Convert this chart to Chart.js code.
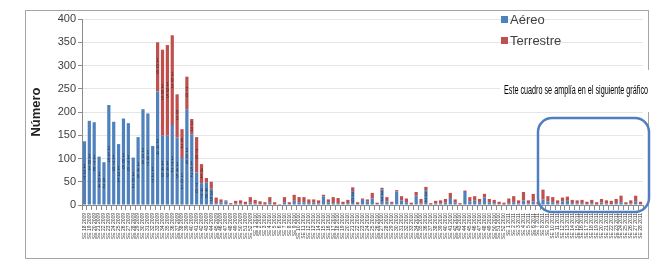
<!DOCTYPE html>
<html>
<head>
<meta charset="utf-8">
<script src="https://cdn.jsdelivr.net/npm/chart.js@4.4.1/dist/chart.umd.min.js"></script>
<style>
  html, body { margin: 0; padding: 0; background: #fff; }
  #wrap { position: relative; width: 661px; height: 275px; }
</style>
</head>
<body>
<div id="wrap"><canvas id="casesChart" width="661" height="275"></canvas></div>
<script>
// Semanas epidemiológicas (etiquetas del eje X)
const weeks = [
  'SE 18 2009','SE 19 2009','SE 20 2009','SE 21 2009','SE 22 2009','SE 23 2009','SE 24 2009','SE 25 2009',
  'SE 26 2009','SE 27 2009','SE 28 2009','SE 29 2009','SE 30 2009','SE 31 2009','SE 32 2009','SE 33 2009',
  'SE 34 2009','SE 35 2009','SE 36 2009','SE 37 2009','SE 38 2009','SE 39 2009','SE 40 2009','SE 41 2009',
  'SE 42 2009','SE 43 2009','SE 44 2009','SE 45 2009','SE 46 2009','SE 47 2009','SE 48 2009',
  'SE 49 2009','SE 50 2009','SE 51 2009','SE 52 2009','SE 1 2010','SE 2 2010','SE 3 2010','SE 4 2010',
  'SE 5 2010','SE 6 2010','SE 7 2010','SE 8 2010','SE 9 2010','SE 10 2010','SE 11 2010','SE 12 2010',
  'SE 13 2010','SE 14 2010','SE 15 2010','SE 16 2010','SE 17 2010','SE 18 2010','SE 19 2010','SE 20 2010',
  'SE 21 2010','SE 22 2010','SE 23 2010','SE 24 2010','SE 25 2010','SE 26 2010','SE 27 2010',
  'SE 28 2010','SE 29 2010','SE 30 2010','SE 31 2010','SE 32 2010','SE 33 2010','SE 34 2010','SE 35 2010',
  'SE 36 2010','SE 37 2010','SE 38 2010','SE 39 2010','SE 40 2010','SE 41 2010','SE 42 2010','SE 43 2010',
  'SE 44 2010','SE 45 2010','SE 46 2010','SE 47 2010','SE 48 2010','SE 49 2010','SE 50 2010','SE 51 2010',
  'SE 52 2010','SE 1 2011','SE 2 2011','SE 3 2011','SE 4 2011','SE 5 2011','SE 6 2011',
  'SE 7 2011','SE 8 2011','SE 9 2011','SE 10 2011','SE 11 2011','SE 12 2011','SE 13 2011','SE 14 2011',
  'SE 15 2011','SE 16 2011','SE 17 2011','SE 18 2011','SE 19 2011','SE 20 2011','SE 21 2011','SE 22 2011',
  'SE 23 2011','SE 24 2011','SE 25 2011','SE 26 2011','SE 27 2011','SE 28 2011'
];

// Aéreo (azul)
const aereo = [
  137,181,178,104,92,215,179,131,186,176,102,146,206,197,127,
  244,149,149,172,145,101,206,152,70,47,48,35,4,6,8,0,3,
  3,2,5,3,2,1,5,1,0,6,2,9,6,6,4,5,3,18,6,4,4,2,4,30,2,11,8,14,2,33,8,4,29,10,6,1,20,3,32,1,3,
  3,5,15,5,1,28,8,9,6,16,6,4,2,1,4,6,3,10,3,8,2,12,8,6,3,8,9,4,3,4,2,4,1,5,3,2,4,6,2,3,7,2
];

// Terrestre (rojo)
const terrestre = [
  0,0,0,0,0,0,0,0,0,0,0,0,0,0,0,
  106,185,195,193,93,62,70,33,76,41,10,15,12,6,2,4,6,
  7,5,12,8,6,5,12,5,2,11,4,13,11,11,8,7,7,4,6,13,11,5,7,8,4,3,4,12,3,4,9,3,3,9,8,4,8,10,7,3,6,
  7,8,11,7,3,3,9,10,7,8,7,7,5,4,10,13,7,18,7,16,5,21,11,11,7,8,9,7,7,7,5,7,5,8,7,7,9,14,4,7,13,5
];

const yTicks = [0, 50, 100, 150, 200, 250, 300, 350, 400];

const blue = '#4f81bd';
const red = '#c0504d';
const textGrey = '#404040';

// Dibujo extra: marco, etiquetas de valor, leyenda y recuadro de la nota
const extras = {
  id: 'extras',
  beforeDraw(chart) {
    const c = chart.ctx;
    c.save();
    c.fillStyle = '#fff';
    c.fillRect(0, 0, chart.width, chart.height);
    c.strokeStyle = '#a6a6a6';
    c.lineWidth = 1;
    c.strokeRect(25.5, 10.5, 623, 248);
    c.restore();
  },
  afterDatasetsDraw(chart) {
    // valores dentro de las barras, un dígito por línea (como en Excel)
    const c = chart.ctx;
    c.save();
    c.font = '5px "Liberation Sans"';
    c.fillStyle = 'rgba(40,40,40,0.8)';
    c.textAlign = 'center';
    c.textBaseline = 'middle';
    chart.data.datasets.forEach((ds, di) => {
      const meta = chart.getDatasetMeta(di);
      meta.data.forEach((bar, i) => {
        const v = ds.data[i];
        if (v < 30) return;
        const s = String(v);
        const mid = (bar.y + bar.base) / 2;
        const lh = 6;
        const start = mid - ((s.length - 1) * lh) / 2;
        for (let k = 0; k < s.length; k++) {
          c.fillText(s[k], bar.x, start + k * lh);
        }
      });
    });
    c.restore();
  },
  afterDraw(chart) {
    const c = chart.ctx;
    c.save();
    // leyenda
    const items = [['Aéreo', blue, 20], ['Terrestre', red, 41]];
    c.font = '13px "Liberation Sans"';
    c.textBaseline = 'middle';
    c.textAlign = 'left';
    items.forEach(([label, col, y]) => {
      c.fillStyle = col;
      c.fillRect(501, y - 4, 7, 7);
      c.fillStyle = textGrey;
      c.fillText(label, 510, y);
    });

    // nota con fondo blanco
    c.fillStyle = '#fff';
    c.fillRect(500, 70, 161, 42);
    const note = 'Este cuadro se amplía en el siguiente gráfico';
    c.font = '12px "Liberation Sans"';
    const w = c.measureText(note).width;
    c.translate(504, 91);
    c.scale(144 / w, 1);
    c.fillStyle = '#000';
    c.fillText(note, 0, 0);
    c.setTransform(1, 0, 0, 1, 0, 0);

    // recuadro redondeado
    c.strokeStyle = '#4f7fc0';
    c.lineWidth = 2.5;
    c.beginPath();
    c.roundRect(538, 118, 111, 94, 14);
    c.stroke();
    c.restore();
  }
};

const ctx = document.getElementById('casesChart').getContext('2d');
new Chart(ctx, {
  type: 'bar',
  data: {
    labels: weeks,
    datasets: [
      { label: 'Aéreo', data: aereo, backgroundColor: blue, stack: 's' },
      { label: 'Terrestre', data: terrestre, backgroundColor: red, stack: 's' },
    ],
  },
  options: {
    responsive: false,
    animation: false,
    devicePixelRatio: 1,
    layout: { padding: { top: 19, right: 18, left: 0, bottom: 0 } },
    datasets: { bar: { categoryPercentage: 1, barPercentage: 0.66 } },
    scales: {
      x: {
        stacked: true,
        afterFit(scale) { scale.height = 70; },
        grid: { display: true, drawOnChartArea: false, tickLength: 5, tickColor: '#8c8c8c', offset: true },
        border: { color: '#8c8c8c' },
        ticks: {
          autoSkip: false,
          minRotation: 90,
          maxRotation: 90,
          padding: 3,
          color: '#333',
          font: { size: 5, family: 'Liberation Sans' },
        },
      },
      y: {
        stacked: true,
        min: 0,
        max: 400,
        afterFit(scale) { scale.width = 82; },
        afterBuildTicks(scale) { scale.ticks = yTicks.map((v) => ({ value: v })); },
        grid: { color: '#e6e6e6', tickLength: 4, tickColor: '#8c8c8c' },
        border: { color: '#8c8c8c' },
        ticks: {
          padding: 2,
          color: textGrey,
          font: { size: 11, family: 'Liberation Sans' },
        },
        title: {
          display: true,
          text: 'Número',
          color: '#222',
          font: { size: 13, weight: 'bold', family: 'Liberation Sans' },
          padding: { top: 29, bottom: 0 },
        },
      },
    },
    plugins: {
      legend: { display: false },
      tooltip: { enabled: false },
    },
  },
  plugins: [extras],
});
</script>
</body>
</html>
